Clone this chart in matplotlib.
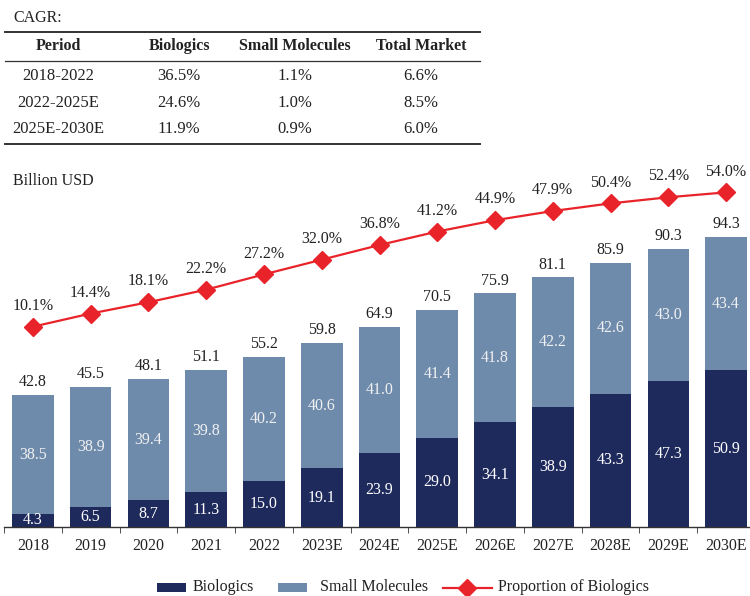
import matplotlib
matplotlib.use("Agg")
import matplotlib.pyplot as plt
from matplotlib.lines import Line2D
from matplotlib.patches import Rectangle
import numpy as np

plt.rcParams['font.family'] = ['Liberation Serif', 'DejaVu Serif']

years = ["2018", "2019", "2020", "2021", "2022", "2023E", "2024E", "2025E",
         "2026E", "2027E", "2028E", "2029E", "2030E"]
biologics = [4.3, 6.5, 8.7, 11.3, 15.0, 19.1, 23.9, 29.0, 34.1, 38.9, 43.3, 47.3, 50.9]
small_molecules = [38.5, 38.9, 39.4, 39.8, 40.2, 40.6, 41.0, 41.4, 41.8, 42.2, 42.6, 43.0, 43.4]
totals = [42.8, 45.5, 48.1, 51.1, 55.2, 59.8, 64.9, 70.5, 75.9, 81.1, 85.9, 90.3, 94.3]
proportion = [10.1, 14.4, 18.1, 22.2, 27.2, 32.0, 36.8, 41.2, 44.9, 47.9, 50.4, 52.4, 54.0]

cagr_header = ["Period", "Biologics", "Small Molecules", "Total Market"]
cagr_rows = [["2018-2022", "36.5%", "1.1%", "6.6%"],
             ["2022-2025E", "24.6%", "1.0%", "8.5%"],
             ["2025E-2030E", "11.9%", "0.9%", "6.0%"]]

DARK = "#1f2a5c"
LIGHT = "#6e8bac"
RED = "#e8242a"
TXT = "#222222"

W, H = 750, 596
fig = plt.figure(figsize=(W / 100, H / 100), dpi=100)

def fx(px):
    return px / W

def fy(py):
    return 1 - py / H

# ---- CAGR table ----
fig.text(fx(13), fy(18), "CAGR:", fontsize=11.5, va="center", ha="left", color=TXT)
fig.add_artist(Line2D([fx(5), fx(480)], [fy(32), fy(32)], color="#333333", lw=1.4))
fig.add_artist(Line2D([fx(5), fx(480)], [fy(61), fy(61)], color="#333333", lw=0.9))
fig.add_artist(Line2D([fx(5), fx(480)], [fy(144), fy(144)], color="#333333", lw=1.4))
col_x = [58, 179, 295, 421]
for cx, h in zip(col_x, cagr_header):
    fig.text(fx(cx), fy(46), h, fontsize=11.5, fontweight="bold", ha="center", va="center", color=TXT)
row_y = [76, 103, 129]
for ry, row in zip(row_y, cagr_rows):
    for cx, v in zip(col_x, row):
        fig.text(fx(cx), fy(ry), v, fontsize=12, ha="center", va="center", color=TXT)

# ---- bar chart ----
ax_left, ax_right, ax_top, ax_bottom = 4, 755, 160, 527
ax = fig.add_axes([fx(ax_left), fy(ax_bottom), (ax_right - ax_left) / W, (ax_bottom - ax_top) / H])
x = np.arange(len(years))
bw = 0.72
ax.bar(x, biologics, bw, color=DARK, label="Biologics", zorder=2)
ax.bar(x, small_molecules, bw, bottom=biologics, color=LIGHT, label="Small Molecules", zorder=2)
ax.set_xlim(-0.5, len(years) - 0.5)
ax.set_ylim(0, (ax_bottom - ax_top) / 3.077)
for s in ["top", "left", "right"]:
    ax.spines[s].set_visible(False)
ax.spines["bottom"].set_color("#333333")
ax.spines["bottom"].set_linewidth(1.0)
ax.set_yticks([])
ax.set_xticks(x)
ax.set_xticklabels(years, fontsize=11.5, color=TXT)
ax.tick_params(axis="x", length=0, pad=8)
ax.set_xticks(np.arange(len(years) + 1) - 0.5, minor=True)
ax.tick_params(axis="x", which="minor", length=4, direction="out", color="#333333")

for i in range(len(years)):
    b = biologics[i]
    s = small_molecules[i]
    ax.text(x[i], b / 2 if b > 5 else 2.2, f"{b:.1f}", ha="center", va="center",
            color="white", fontsize=11.5, zorder=3)
    ax.text(x[i], b + s / 2, f"{s:.1f}", ha="center", va="center",
            color="#f0f0f0", fontsize=11.5, zorder=3)
    ax.text(x[i], totals[i] + 1.6, f"{totals[i]:.1f}", ha="center", va="bottom",
            color=TXT, fontsize=11.5, zorder=3)

ax2 = ax.twinx()
for s in ["top", "left", "right", "bottom"]:
    ax2.spines[s].set_visible(False)
ax2.set_yticks([])
px_per = 3.06
y0_px = 326.7 + proportion[0] * px_per  # pixel of 0 %
ax2.set_ylim(-(ax_bottom - y0_px) / px_per, (y0_px - ax_top) / px_per)
ax2.plot(x, proportion, color=RED, lw=1.6, marker="D", markersize=9.5,
         markerfacecolor=RED, markeredgecolor=RED, label="Proportion of Biologics", zorder=4)
for i in range(len(years)):
    ax2.text(x[i], proportion[i] + 4.2, f"{proportion[i]:.1f}%", ha="center", va="bottom",
             color=TXT, fontsize=11.5)

fig.text(fx(13), fy(181), "Billion USD", fontsize=11.5, ha="left", va="center", color=TXT)

# ---- legend (drawn by hand to match handle widths) ----
ly = 587
fig.add_artist(Rectangle((fx(157), fy(ly + 4.5)), fx(186) - fx(157), 9 / H,
                         facecolor=DARK, edgecolor="none", transform=fig.transFigure))
fig.text(fx(193), fy(ly), "Biologics", fontsize=11.5, ha="left", va="center", color=TXT)
fig.add_artist(Rectangle((fx(278), fy(ly + 4.5)), fx(307) - fx(278), 9 / H,
                         facecolor=LIGHT, edgecolor="none", transform=fig.transFigure))
fig.text(fx(320), fy(ly), "Small Molecules", fontsize=11.5, ha="left", va="center", color=TXT)
fig.add_artist(Line2D([fx(443), fx(492)], [fy(ly + 1), fy(ly + 1)], color=RED, lw=1.6,
                      transform=fig.transFigure))
fig.add_artist(Line2D([fx(467)], [fy(ly + 1)], color=RED, marker="D", markersize=9.5,
                      markerfacecolor=RED, markeredgecolor=RED, transform=fig.transFigure))
fig.text(fx(498), fy(ly), "Proportion of Biologics", fontsize=11.5, ha="left", va="center", color=TXT)

fig.savefig("out.png", dpi=100)
